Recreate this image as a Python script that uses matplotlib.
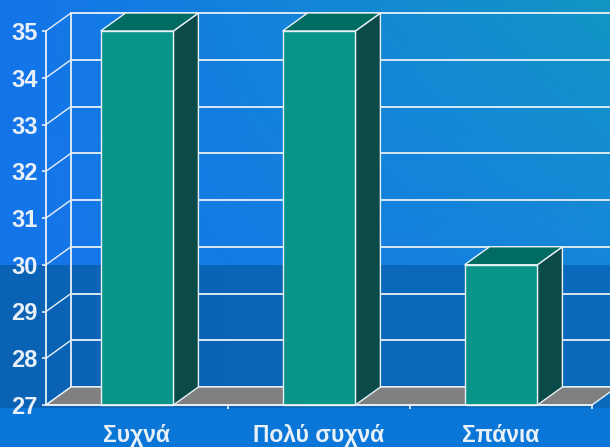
import numpy as np
import matplotlib.pyplot as plt
from matplotlib.patches import Polygon

# data
categories = ["Συχνά", "Πολύ συχνά", "Σπάνια"]
values = [35, 35, 30]
y_ticks = [27, 28, 29, 30, 31, 32, 33, 34, 35]

plt.rcParams['font.family'] = ['Liberation Sans', 'DejaVu Sans']

fig = plt.figure(figsize=(6.10, 4.47), dpi=100)

# background of the slide (gradient + darker band)
W, H = 610, 447
bg = np.zeros((H, W, 3))
xs = np.linspace(0, 1, W)
top_l = np.array([0x14, 0x74, 0xea]) / 255
top_r = np.array([0x12, 0x96, 0xc4]) / 255
mid_r = np.array([0x16, 0x86, 0xda]) / 255
band_l = np.array([0x0a, 0x62, 0xb4]) / 255
band_r = np.array([0x0a, 0x6a, 0xbc]) / 255
low = np.array([0x0a, 0x76, 0xd8]) / 255
for j in range(H):
    if j < 265:
        t = j / 265
        right = top_r * (1 - t) + mid_r * t
        bg[j] = top_l[None, :] * (1 - xs[:, None]) + right[None, :] * xs[:, None]
    elif j < 408:
        bg[j] = band_l[None, :] * (1 - xs[:, None]) + band_r[None, :] * xs[:, None]
    else:
        bg[j] = low[None, :]
bax = fig.add_axes([0, 0, 1, 1], zorder=0)
bax.imshow(bg, aspect='auto', interpolation='bilinear')
bax.axis('off')

ax = fig.add_axes([46 / W, 1 - 405 / H, 546 / W, 374 / H], zorder=1)
ax.patch.set_alpha(0)
ax.set_xlim(-0.5, 2.5)
ax.set_ylim(27, 35)

# depth of the 3d box, in data units
ddx = 3.0 * 25 / 546
ddy = 8.0 * 18 / 374
line_c = '#e8f0f8'

# back wall grid lines and side wall lines
for v in y_ticks:
    ax.plot([-0.5 + ddx, 3.5], [v + ddy, v + ddy], color=line_c, lw=1.3, clip_on=False, zorder=1)
    ax.plot([-0.5, -0.5 + ddx], [v, v + ddy], color=line_c, lw=1.0, clip_on=False, zorder=1)
ax.plot([-0.5 + ddx, -0.5 + ddx], [27 + ddy, 35 + ddy], color=line_c, lw=1.3, clip_on=False, zorder=1)

# floor
floor = Polygon([(-0.5, 27), (2.5, 27), (2.5 + ddx, 27 + ddy), (-0.5 + ddx, 27 + ddy)],
                closed=True, facecolor='#808080', edgecolor=line_c, lw=1.0, clip_on=False, zorder=2)
ax.add_patch(floor)

# bars
w = 0.4
for i, v in enumerate(values):
    x0, x1 = i - w / 2, i + w / 2
    side = Polygon([(x1, 27), (x1, v), (x1 + ddx, v + ddy), (x1 + ddx, 27 + ddy)],
                   facecolor='#0a4a48', edgecolor=line_c, lw=1.0, clip_on=False, zorder=3)
    top = Polygon([(x0, v), (x1, v), (x1 + ddx, v + ddy), (x0 + ddx, v + ddy)],
                  facecolor='#006b60', edgecolor=line_c, lw=1.0, clip_on=False, zorder=3)
    ax.add_patch(side)
    ax.add_patch(top)
    ax.bar(i, v - 27, bottom=27, width=w, color='#089488', edgecolor=line_c, lw=1.0,
           clip_on=False, zorder=4)

# axes
for s in ['top', 'right']:
    ax.spines[s].set_visible(False)
ax.spines['left'].set_color(line_c)
ax.spines['bottom'].set_color(line_c)
ax.spines['left'].set_linewidth(1.3)
ax.spines['bottom'].set_linewidth(1.3)
ax.spines['bottom'].set_zorder(5)
ax.set_yticks(y_ticks)
ax.set_xticks(range(len(categories)))
ax.set_xticklabels(categories)
ax.set_xticks([0.5, 1.5, 2.5], minor=True)
ax.tick_params(axis='y', colors=line_c, length=3, width=1.2, pad=3, labelsize=17)
ax.tick_params(axis='x', which='major', length=0, pad=14, labelcolor=line_c, labelsize=16.5)
ax.tick_params(axis='x', which='minor', length=3, width=1.2, colors=line_c)
for lab in ax.get_yticklabels() + ax.get_xticklabels():
    lab.set_fontweight('bold')

plt.savefig("out.png", dpi=100)
